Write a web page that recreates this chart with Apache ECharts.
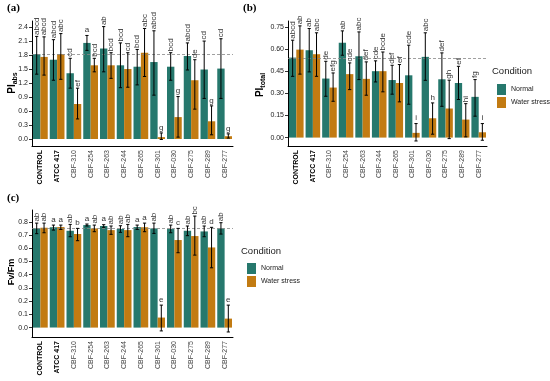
<!DOCTYPE html>
<html>
<head>
<meta charset="utf-8">
<script src="https://cdn.jsdelivr.net/npm/echarts@6/dist/echarts.min.js"></script>
<style>html,body{margin:0;padding:0;background:#fff;}#c{width:550px;height:381px;}</style>
</head>
<body>
<div id="c"></div>
<script>
const categories = ['CONTROL','ATCC 417','CBF-310','CBF-254','CBF-263','CBF-244','CBF-265','CBF-301','CBF-030','CBF-275','CBF-289','CBF-277'];

// Panel (a) PI abs
const absNormal   = [1.82,1.70,1.41,2.06,1.94,1.58,1.55,1.65,1.55,1.78,1.49,1.51];
const absNormalLo = [1.39,1.26,1.09,1.90,1.44,1.10,1.16,0.94,1.26,1.48,0.87,0.87];
const absNormalHi = [2.20,2.13,1.73,2.22,2.41,2.06,1.92,2.32,1.85,2.06,2.10,2.15];
const absNormalLetters = ['abcd','abcd','cd','a','ab','bcd','bcd','abcd','bcd','abcd','cd','cd'];
const absStress   = [1.76,1.82,0.75,1.58,1.58,1.50,1.85,0.04,0.47,1.26,0.38,0.06];
const absStressLo = [1.37,1.28,0.43,1.44,1.30,1.11,1.34,-0.01,0.04,0.64,0.09,0.02];
const absStressHi = [2.19,2.26,1.09,1.73,1.85,1.85,2.37,0.13,0.91,1.70,0.71,0.11];
const absStressLetters = ['abcd','abc','ef','bcd','bcd','cd','abc','g','g','de','g','g'];
const absTicks = [0,0.3,0.6,0.9,1.2,1.5,1.8,2.1,2.4];

// Panel (b) PI total
const totNormal   = [0.542,0.592,0.400,0.642,0.551,0.450,0.390,0.422,0.547,0.395,0.370,0.276];
const totNormalLo = [0.415,0.445,0.280,0.558,0.393,0.377,0.294,0.226,0.388,0.212,0.258,0.145];
const totNormalHi = [0.660,0.739,0.517,0.723,0.716,0.520,0.490,0.626,0.710,0.574,0.483,0.393];
const totNormalLetters = ['abcd','ab','de','ab','abc','cde','def','cde','abc','def','ef','fg'];
const totStress   = [0.596,0.565,0.339,0.430,0.398,0.450,0.370,0.032,0.131,0.197,0.122,0.036];
const totStressLo = [0.430,0.415,0.246,0.325,0.287,0.310,0.242,-0.023,0.023,-0.007,0.005,-0.018];
const totStressHi = [0.757,0.710,0.438,0.506,0.513,0.580,0.495,0.095,0.235,0.389,0.230,0.095];
const totStressLetters = ['ab','abc','efg','cde','def','bcde','ef','i','h','gh','hi','i'];
const totTicks = [0,0.15,0.30,0.45,0.60,0.75];

// Panel (c) Fv/Fm
const fvNormal   = [0.750,0.758,0.732,0.775,0.768,0.745,0.760,0.750,0.745,0.732,0.727,0.750];
const fvNormalLo = [0.710,0.737,0.687,0.768,0.758,0.720,0.742,0.712,0.717,0.695,0.687,0.707];
const fvNormalHi = [0.790,0.775,0.780,0.783,0.778,0.770,0.775,0.790,0.775,0.768,0.768,0.793];
const fvNormalLetters = ['ab','a','ab','a','a','ab','a','ab','ab','ab','ab','ab'];
const fvStress   = [0.755,0.760,0.707,0.750,0.737,0.737,0.758,0.076,0.662,0.692,0.606,0.068];
const fvStressLo = [0.717,0.742,0.657,0.725,0.705,0.687,0.725,-0.025,0.566,0.548,0.452,-0.033];
const fvStressHi = [0.790,0.775,0.750,0.775,0.768,0.780,0.790,0.170,0.750,0.843,0.758,0.170];
const fvStressLetters = ['ab','a','b','ab','ab','ab','a','e','c','bc','d','e'];
const fvTicks = [0,0.1,0.2,0.3,0.4,0.5,0.6,0.7,0.8];

const colNormal = '#26786d';
const colStress = '#c27b12';
const FONT = 'Liberation Sans, Arial, sans-serif';

const chart = echarts.init(document.getElementById('c'), null, {renderer:'canvas'});

function errRender(lo, hi, letters, side) {
  return function (params, api) {
    const i = params.dataIndex;
    const bw = api.size([1, 0])[0];
    const x = api.coord([i, 0])[0] + side * bw * 0.22;
    const yl = api.coord([i, lo[i]])[1];
    const yh = api.coord([i, hi[i]])[1];
    const cap = 1.6;
    const txt = letters[i];
    const rot = txt.length > 1;
    const ls = {stroke: '#000', lineWidth: 1};
    return {
      type: 'group',
      children: [
        {type: 'line', shape: {x1: x, y1: yl, x2: x, y2: yh}, style: ls},
        {type: 'line', shape: {x1: x - cap, y1: yh, x2: x + cap, y2: yh}, style: ls},
        {type: 'line', shape: {x1: x - cap, y1: yl, x2: x + cap, y2: yl}, style: ls},
        {type: 'text', x: x, y: yh - 1.5, rotation: rot ? Math.PI / 2 : 0,
          style: {text: txt, fill: '#333', fontSize: 8, fontFamily: FONT,
            align: rot ? 'left' : 'center', verticalAlign: rot ? 'middle' : 'bottom'}}
      ]
    };
  };
}

function xAxisDef(gi) {
  return {
    type: 'category', gridIndex: gi, data: categories,
    axisLine: {onZero: false, lineStyle: {color: '#000', width: 1}},
    axisTick: {alignWithLabel: true, length: 3, lineStyle: {color: '#333'}},
    axisLabel: {
      rotate: 90, fontSize: 7, color: '#444', fontFamily: FONT, margin: 4, interval: 0,
      formatter: function (v, idx) { return idx < 2 ? '{b|' + v + '}' : v; },
      rich: {b: {fontSize: 7, fontWeight: 'bold', color: '#000', fontFamily: FONT}}
    }
  };
}
function yAxisDef(gi, min, max, ticks, dec) {
  return {
    type: 'value', gridIndex: gi, min: min, max: max,
    splitLine: {show: false},
    axisLine: {show: true, lineStyle: {color: '#000', width: 1}},
    axisTick: {show: true, length: 3, customValues: ticks, lineStyle: {color: '#333'}},
    axisLabel: {customValues: ticks, fontSize: 7, color: '#222', fontFamily: FONT, margin: 4,
      formatter: function (v) { return v.toFixed(dec); }}
  };
}

function panelSeries(gi, n, nLo, nHi, nL, s, sLo, sHi, sL) {
  const common = {type: 'bar', xAxisIndex: gi, yAxisIndex: gi, barCategoryGap: '12%', barGap: '0%'};
  return [
    Object.assign({}, common, {name: 'Normal', data: n, itemStyle: {color: colNormal},
      markLine: {silent: true, symbol: 'none', label: {show: false},
        lineStyle: {color: '#888', type: [3, 2], width: 0.8},
        data: [{yAxis: n[0]}]}}),
    Object.assign({}, common, {name: 'Water stress', data: s, itemStyle: {color: colStress}}),
    {type: 'custom', name: 'errN' + gi, xAxisIndex: gi, yAxisIndex: gi, z: 5,
      data: categories.map((c, i) => [i, nHi[i]]), renderItem: errRender(nLo, nHi, nL, -1)},
    {type: 'custom', name: 'errS' + gi, xAxisIndex: gi, yAxisIndex: gi, z: 5,
      data: categories.map((c, i) => [i, sHi[i]]), renderItem: errRender(sLo, sHi, sL, 1)}
  ];
}

const legendCommon = {
  orient: 'vertical', itemWidth: 9, itemHeight: 11, itemGap: 2, icon: 'rect',
  data: ['Normal', 'Water stress'], selectedMode: false,
  textStyle: {fontSize: 7, color: '#222', fontFamily: FONT}
};

const option = {
  animation: false,
  backgroundColor: '#fff',
  grid: [
    {left: 32, top: 21, width: 201, height: 125},
    {left: 288, top: 21, width: 199, height: 125},
    {left: 32, top: 210, width: 201, height: 127}
  ],
  xAxis: [xAxisDef(0), xAxisDef(1), xAxisDef(2)],
  yAxis: [
    yAxisDef(0, -0.15, 2.53, absTicks, 1),
    yAxisDef(1, -0.057, 0.79, totTicks, 2),
    yAxisDef(2, -0.071, 0.889, fvTicks, 1)
  ],
  legend: [
    Object.assign({left: 492, top: 79}, legendCommon),
    Object.assign({left: 242, top: 258}, legendCommon)
  ],
  series: [].concat(
    panelSeries(0, absNormal, absNormalLo, absNormalHi, absNormalLetters, absStress, absStressLo, absStressHi, absStressLetters),
    panelSeries(1, totNormal, totNormalLo, totNormalHi, totNormalLetters, totStress, totStressLo, totStressHi, totStressLetters),
    panelSeries(2, fvNormal, fvNormalLo, fvNormalHi, fvNormalLetters, fvStress, fvStressLo, fvStressHi, fvStressLetters)
  ),
  graphic: [
    {type: 'text', left: 7, top: 3, style: {text: '(a)', font: 'bold 11px "Liberation Serif", serif', fill: '#000'}},
    {type: 'text', left: 243, top: 3, style: {text: '(b)', font: 'bold 11px "Liberation Serif", serif', fill: '#000'}},
    {type: 'text', left: 7, top: 193, style: {text: '(c)', font: 'bold 11px "Liberation Serif", serif', fill: '#000'}},
    {type: 'text', x: 492, y: 71, style: {text: 'Condition', fontSize: 9.5, fontFamily: FONT, fill: '#222', verticalAlign: 'middle'}},
    {type: 'text', x: 241, y: 251, style: {text: 'Condition', fontSize: 9.5, fontFamily: FONT, fill: '#222', verticalAlign: 'middle'}},
    {type: 'text', x: 12, y: 83, rotation: Math.PI / 2,
      style: {text: '{m|PI}{s|abs}', align: 'center', verticalAlign: 'middle',
        rich: {m: {fontSize: 10, fontWeight: 'bold', fontFamily: FONT, fill: '#000', lineHeight: 14},
               s: {fontSize: 7, fontWeight: 'bold', fontFamily: FONT, fill: '#000', verticalAlign: 'bottom', lineHeight: 8}}}},
    {type: 'text', x: 260, y: 85, rotation: Math.PI / 2,
      style: {text: '{m|PI}{s|total}', align: 'center', verticalAlign: 'middle',
        rich: {m: {fontSize: 10, fontWeight: 'bold', fontFamily: FONT, fill: '#000', lineHeight: 14},
               s: {fontSize: 7, fontWeight: 'bold', fontFamily: FONT, fill: '#000', verticalAlign: 'bottom', lineHeight: 8}}}},
    {type: 'text', x: 12, y: 272, rotation: Math.PI / 2,
      style: {text: 'Fv/Fm', align: 'center', verticalAlign: 'middle', fontSize: 9, fontWeight: 'bold', fontFamily: FONT, fill: '#000'}}
  ]
};
chart.setOption(option);
</script>
</body>
</html>
